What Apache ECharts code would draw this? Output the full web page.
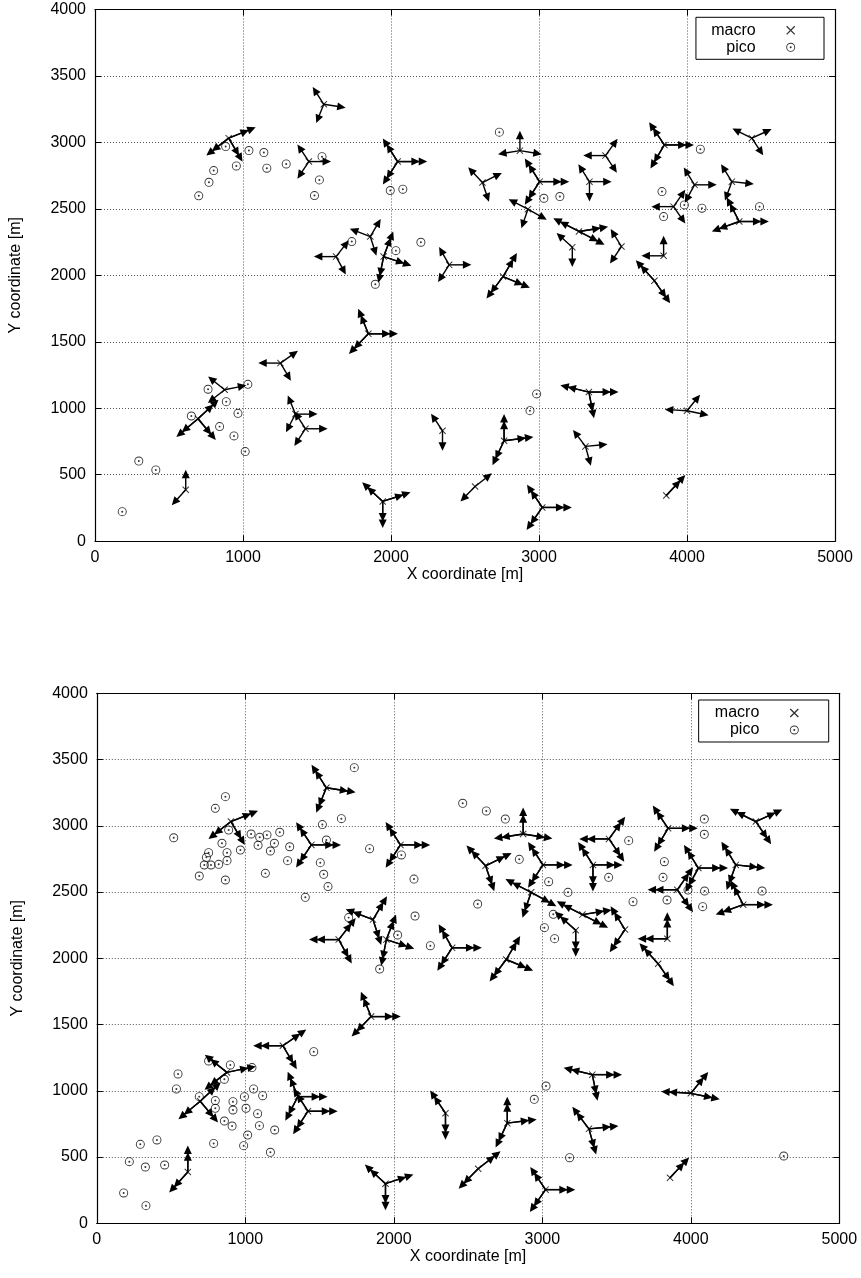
<!DOCTYPE html>
<html>
<head>
<meta charset="utf-8">
<script src="https://cdn.jsdelivr.net/npm/echarts@6/dist/echarts.min.js"></script>
<style>
  html, body { margin: 0; padding: 0; background: #fff; }
  #chart { width: 861px; height: 1278px; }
</style>
</head>
<body>
<div id="chart"></div>
<script>
// ---- Macro base stations (same sites in both scenarios) ----
// position in metres
const macroX = [1546, 903, 1445, 1629, 2045, 2871, 2618, 3004, 2925, 1860, 1950, 2393,
                3449, 3847, 4438, 3341, 4051, 4303, 4353, 3909, 3842, 3780, 3557, 3270, 3225,
                1253, 876, 696, 613, 1354, 1422, 1847, 2348, 2764, 2568, 1944, 3022, 3314,
                3337, 4000, 3860, 2757];
const macroY = [3287, 3032, 2856, 2141, 2856, 2938, 2698, 2705, 2498, 2292, 2141, 2079,
                2901, 2981, 3032, 2705, 2681, 2705, 2405, 2517, 2147, 1959, 2217, 2330, 2212,
                1340, 1139, 921, 387, 956, 846, 1560, 831, 756, 412, 299, 254, 713,
                1122, 981, 344, 1991];
// sector azimuths in degrees, clockwise from north
const macroAzimuths = [
  [330, 100, 200], [66, 229, 152], [329, 90, 211], [35, 154, 270], [330, 90, 210],
  [0, 100, 260], [320, 61, 163], [330, 90, 210], [300, 122, 197], [293, 28, 164],
  [19, 110, 190], [333, 90, 210],
  [270, 33, 149], [329, 90, 208], [299, 63, 149], [330, 90, 180], [331, 90, 206],
  [331, 97, 198], [335, 90, 248], [270, 32, 148], [0, 270], [321, 148], [331, 211],
  [300, 80, 120], [315, 180],
  [270, 52, 152], [312, 77, 229], [44, 227, 143], [0, 219], [340, 90, 205],
  [330, 90, 210], [340, 90, 221], [329, 180], [0, 82, 203], [49, 221], [316, 70, 180],
  [329, 90, 212], [326, 84, 166], [285, 90, 170], [274, 36, 103], [40], [28, 115, 214]
];
// 1 = the site carries both sector vector lengths in the upper scenario
const macroDoubleUpper = [0, 1, 0, 0, 1, 0, 0, 1, 0, 0, 1, 0,
                          0, 1, 0, 0, 0, 0, 1, 0, 0, 1, 0, 1, 0,
                          0, 0, 1, 0, 0, 0, 1, 0, 1, 0, 1, 1, 0,
                          1, 0, 1, 1];
// sector vector lengths in metres
const SECTOR_SHORT = 150;
const SECTOR_LONG = 200;

// ---- Pico cells, upper scenario ----
const picoUpperX = [883, 1040, 1141, 955, 1161, 1292, 802, 770, 701, 1534, 1516, 1483,
                    2732, 1995, 2080, 3033, 3141, 1735, 2033, 2202,
                    4090, 3831, 3842, 3982, 4101, 4490,
                    1033, 764, 887, 651, 966, 842, 939, 1015, 296, 411, 184,
                    1894, 2984, 2939];
const picoUpperY = [2969, 2939, 2924, 2823, 2806, 2838, 2788, 2700, 2598, 2893, 2718, 2600,
                    3077, 2638, 2648, 2580, 2593, 2254, 2186, 2249,
                    2949, 2630, 2442, 2530, 2505, 2517,
                    1180, 1143, 1050, 942, 962, 862, 792, 674, 603, 536, 222,
                    1933, 1108, 982];

// ---- Pico cells, lower scenario ----
const picoLowerX = [866, 798, 518, 888, 1039, 1097, 1146, 1232, 843, 1086, 1196, 967, 1299, 1169,
                    753, 877, 738, 877, 724, 769, 821, 1285, 690, 1135, 866, 1404, 1519, 1647,
                    1546, 1505, 1528, 1557,
                    1734, 1837, 2051, 2136, 2464, 2623, 2751, 2845, 3043, 3173, 2565, 1696,
                    2143, 2026, 2246, 3074, 3014, 3083,
                    4091, 4091, 3582, 3822, 3813, 3447, 3611, 3840, 3981, 4093, 4080, 4480,
                    753, 899, 1045, 547, 859, 536, 1056, 1117, 994, 690, 798, 917, 1005, 798,
                    917, 1083, 859, 911, 1095, 1198, 1016, 1461, 293, 405, 219, 327, 457, 787,
                    989, 1169, 181, 331,
                    1905, 3025, 2946, 3184, 4626];
const picoLowerY = [3220, 3132, 2910, 2968, 2938, 2913, 2931, 2951, 2868, 2853, 2868, 2817, 2842, 2810,
                    2797, 2797, 2762, 2737, 2704, 2704, 2709, 2737, 2621, 2641, 2591, 2460, 3009, 3054,
                    2893, 2722, 2634, 2541,
                    3439, 2827, 2780, 2598, 3170, 3112, 3051, 2747, 2578, 2498, 2410, 2307,
                    2319, 2176, 2095, 2332, 2231, 2148,
                    3051, 2936, 2888, 2729, 2611, 2611, 2427, 2440, 2515, 2508, 2390, 2508,
                    1225, 1195, 1175, 1127, 1087, 1014, 1014, 963, 956, 956, 926, 918, 868, 868,
                    855, 827, 772, 734, 737, 704, 666, 1295, 596, 629, 465, 425, 440, 603,
                    586, 536, 229, 133,
                    1919, 1036, 936, 495, 508];

// ---- Axes ----
const X_MIN = 0, X_MAX = 5000, X_STEP = 1000;
const Y_MIN = 0, Y_MAX = 4000, Y_STEP = 500;
const X_NAME = 'X coordinate [m]';
const Y_NAME = 'Y coordinate [m]';
const LEGEND_NAMES = ['macro', 'pico'];

// ---- Styling ----
const FONT = 'Liberation Sans, Arial, Helvetica, sans-serif';
const FONT_SIZE = 16;
const CROSS_PATH = 'path://M0 1L1 0L10 9L9 10Z M9 0L10 1L1 10L0 9Z';
const PICO_PATH = 'path://M0 -10A10 10 0 1 1 0 10A10 10 0 1 1 0 -10Z' +
                  'M0 -8A8 8 0 1 0 0 8A8 8 0 1 0 0 -8Z' +
                  'M0 -2.2A2.2 2.2 0 1 1 0 2.2A2.2 2.2 0 1 1 0 -2.2Z';

// one entry per drawn sector vector: [x, y, azimuth, length]
function sectorVectors(allDouble) {
  const out = [];
  macroX.forEach((x, i) => {
    const dbl = allDouble || macroDoubleUpper[i] === 1;
    macroAzimuths[i].forEach(az => {
      if (dbl) out.push([x, macroY[i], az, SECTOR_LONG]);
      out.push([x, macroY[i], az, SECTOR_SHORT]);
    });
  });
  return out;
}

function renderArrow(params, api) {
  const x = api.value(0), y = api.value(1);
  const az = api.value(2) * Math.PI / 180;
  const len = api.value(3);
  const p0 = api.coord([x, y]);
  const p1 = api.coord([x + len * Math.sin(az), y + len * Math.cos(az)]);
  const dx = p1[0] - p0[0], dy = p1[1] - p0[1];
  const d = Math.hypot(dx, dy) || 1;
  const ux = dx / d, uy = dy / d;
  const headLen = 8.5, headHalf = 4;
  const bx = p1[0] - ux * headLen, by = p1[1] - uy * headLen;
  return {
    type: 'group',
    children: [
      { type: 'line', shape: { x1: p0[0], y1: p0[1], x2: bx + ux, y2: by + uy },
        style: { stroke: '#000', lineWidth: 1.4 } },
      { type: 'polygon',
        shape: { points: [[p1[0], p1[1]], [bx - uy * headHalf, by + ux * headHalf], [bx + uy * headHalf, by - ux * headHalf]] },
        style: { fill: '#000' } }
    ]
  };
}

function pairs(xs, ys) { return xs.map((x, i) => [x, ys[i]]); }
const plainNumber = v => String(Math.round(v));

const textBase = { color: '#000', fontFamily: FONT, fontSize: FONT_SIZE };
const borderLine = { color: '#000', width: 1.2 };

function mainXAxis(gi) {
  return {
    gridIndex: gi, type: 'value', min: X_MIN, max: X_MAX, interval: X_STEP, position: 'bottom',
    axisLine: { show: true, onZero: false, lineStyle: borderLine },
    axisTick: { show: true, inside: true, length: 6, lineStyle: { color: '#000' } },
    axisLabel: Object.assign({ margin: 8, formatter: plainNumber }, textBase),
    splitLine: { show: true, lineStyle: { color: '#555', width: 1, type: [1, 2] } },
    name: X_NAME, nameLocation: 'middle', nameGap: 24, nameTextStyle: textBase
  };
}
function mirrorXAxis(gi) {
  return {
    gridIndex: gi, type: 'value', min: X_MIN, max: X_MAX, interval: X_STEP, position: 'top',
    axisLine: { show: true, onZero: false, lineStyle: borderLine },
    axisTick: { show: true, inside: true, length: 6, lineStyle: { color: '#000' } },
    axisLabel: { show: false }, splitLine: { show: false }
  };
}
function mainYAxis(gi) {
  return {
    gridIndex: gi, type: 'value', min: Y_MIN, max: Y_MAX, interval: Y_STEP, position: 'left',
    axisLine: { show: true, onZero: false, lineStyle: borderLine },
    axisTick: { show: true, inside: true, length: 6, lineStyle: { color: '#000' } },
    axisLabel: Object.assign({ margin: 9, formatter: plainNumber }, textBase),
    splitLine: { show: true, lineStyle: { color: '#555', width: 1, type: [1, 2] } },
    name: Y_NAME, nameLocation: 'middle', nameGap: 71, nameTextStyle: textBase
  };
}
function mirrorYAxis(gi) {
  return {
    gridIndex: gi, type: 'value', min: Y_MIN, max: Y_MAX, interval: Y_STEP, position: 'right',
    axisLine: { show: true, onZero: false, lineStyle: borderLine },
    axisTick: { show: true, inside: true, length: 6, lineStyle: { color: '#000' } },
    axisLabel: { show: false }, splitLine: { show: false }
  };
}

function panelSeries(gi, allDouble, picoX, picoY) {
  const ax = { xAxisIndex: gi * 2, yAxisIndex: gi * 2 };
  return [
    Object.assign({ type: 'custom', renderItem: renderArrow, data: sectorVectors(allDouble),
      encode: { x: 0, y: 1 }, silent: true, clip: false, z: 3 }, ax),
    Object.assign({ name: LEGEND_NAMES[0], type: 'scatter', data: pairs(macroX, macroY),
      symbol: CROSS_PATH, symbolSize: 7, itemStyle: { color: '#000' }, silent: true, z: 4 }, ax),
    Object.assign({ name: LEGEND_NAMES[1], type: 'scatter', data: pairs(picoX, picoY),
      symbol: PICO_PATH, symbolSize: 9, itemStyle: { color: '#000' }, silent: true, z: 4 }, ax)
  ];
}

// gnuplot-style key: right-justified text, symbols in a column, boxed
function panelLegend(right, top, padLeft, padRight) {
  return {
    orient: 'vertical', align: 'right', right: right, top: top,
    data: LEGEND_NAMES, selectedMode: false,
    itemWidth: 60, itemHeight: 9, itemGap: 1,
    padding: [5, padRight, 4, padLeft], borderColor: '#000', borderWidth: 1,
    textStyle: Object.assign({ lineHeight: 16 }, textBase)
  };
}

const chart = echarts.init(document.getElementById('chart'), null, { renderer: 'canvas' });
chart.setOption({
  animation: false,
  backgroundColor: '#fff',
  grid: [
    { left: 93.4, top: 9.5, width: 741.6, height: 531.7 },
    { left: 96.8, top: 693.3, width: 742.5, height: 530 }
  ],
  xAxis: [mainXAxis(0), mirrorXAxis(0), mainXAxis(1), mirrorXAxis(1)],
  yAxis: [mainYAxis(0), mirrorYAxis(0), mainYAxis(1), mirrorYAxis(1)],
  legend: [panelLegend(37, 17.3, 15.3, 28.8), panelLegend(32.3, 700, 16.2, 29.9)],
  series: [].concat(
    panelSeries(0, false, picoUpperX, picoUpperY),
    panelSeries(1, true, picoLowerX, picoLowerY)
  )
});
</script>
</body>
</html>
